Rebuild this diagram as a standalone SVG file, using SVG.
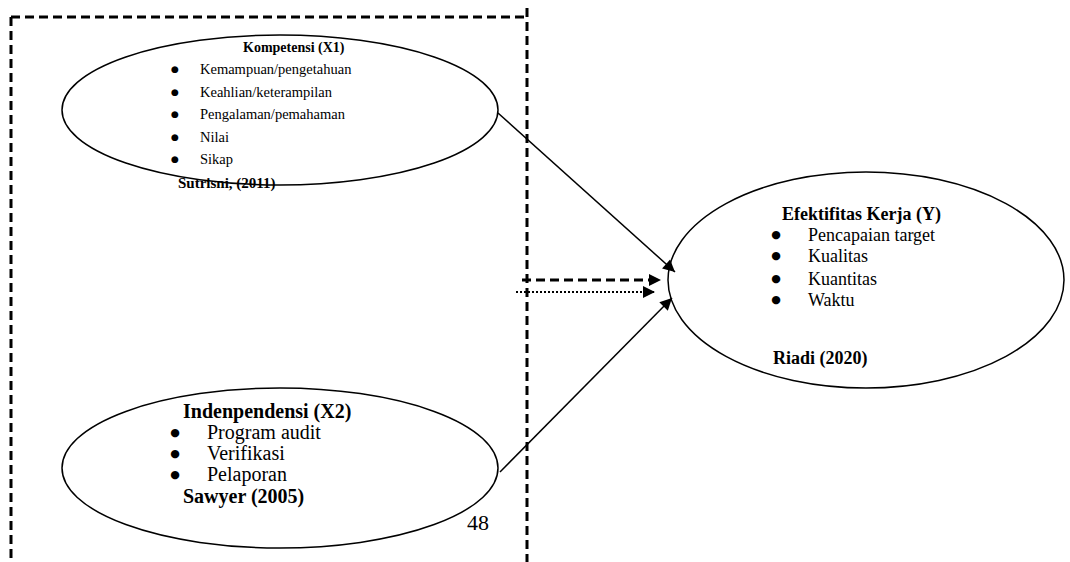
<svg xmlns="http://www.w3.org/2000/svg" width="1070" height="562" viewBox="0 0 1070 562">
<defs>
<style>
.bg{fill:#fff}
.frame{stroke:#000;stroke-width:3;stroke-dasharray:9,5;fill:none}
.node{fill:none;stroke:#000;stroke-width:1.5}
.t{font-family:"Liberation Serif","Times New Roman",serif;fill:#000}
.b{font-weight:bold}
.s1{font-size:14.5px}
.s2{font-size:18px}
.s3{font-size:20px}
.bu{font-family:"DejaVu Sans",sans-serif;fill:#000;text-anchor:middle}
.bu1{font-size:9px}
.bu2{font-size:11px}
.conn{stroke:#000;stroke-width:1.5;fill:none}
</style>
<marker id="ah2" viewBox="0 0 10 10" refX="10" refY="5" markerWidth="16" markerHeight="12" orient="auto" markerUnits="userSpaceOnUse">
<path d="M0,0 L10,5 L0,10 z" fill="#000"/>
</marker>
</defs>
<rect class="bg" width="1070" height="562"/>
<g id="frame">
<path class="frame" d="M11,17 H527"/>
<path class="frame" d="M11,17 V562"/>
<path class="frame" d="M527,8 V562"/>
</g>
<g id="x1">
<ellipse class="node" cx="280" cy="110" rx="218" ry="75"/>
<text class="t b" font-size="14" x="243" y="52">Kompetensi (X1)</text>
<g class="bu bu1">
<text x="175" y="72">●</text>
<text x="175" y="95">●</text>
<text x="175" y="117">●</text>
<text x="175" y="140">●</text>
<text x="175" y="162">●</text>
</g>
<g class="t s1">
<text x="200" y="74">Kemampuan/pengetahuan</text>
<text x="200" y="97">Keahlian/keterampilan</text>
<text x="200" y="119">Pengalaman/pemahaman</text>
<text x="200" y="142">Nilai</text>
<text x="200" y="164">Sikap</text>
</g>
<text class="t b" font-size="15" x="178" y="188">Sutrisni, (2011)</text>
</g>
<g id="x2">
<ellipse class="node" cx="280" cy="468" rx="218" ry="80"/>
<text class="t b s3" x="183" y="418">Indenpendensi (X2)</text>
<g class="bu bu2">
<text x="175" y="436">●</text>
<text x="175" y="457">●</text>
<text x="175" y="478">●</text>
</g>
<g class="t s3">
<text x="207" y="439">Program audit</text>
<text x="207" y="460">Verifikasi</text>
<text x="207" y="481">Pelaporan</text>
</g>
<text class="t b s3" x="183" y="503">Sawyer (2005)</text>
</g>
<g id="y">
<ellipse class="node" cx="866" cy="280" rx="198" ry="108"/>
<text class="t b s2" x="782" y="220">Efektifitas Kerja (Y)</text>
<g class="bu bu2">
<text x="776" y="238">●</text>
<text x="776" y="259">●</text>
<text x="776" y="282">●</text>
<text x="776" y="303">●</text>
</g>
<g class="t s2">
<text x="808" y="241">Pencapaian target</text>
<text x="808" y="262">Kualitas</text>
<text x="808" y="285">Kuantitas</text>
<text x="808" y="306">Waktu</text>
</g>
<text class="t b s2" x="773" y="364">Riadi (2020)</text>
</g>
<g id="connectors">
<line class="conn" x1="498" y1="113" x2="675" y2="272" marker-end="url(#ah2)"/>
<line class="conn" x1="500" y1="472" x2="672" y2="298" marker-end="url(#ah2)"/>
<line x1="522" y1="280" x2="661" y2="280" stroke="#000" stroke-width="3" stroke-dasharray="9,5" marker-end="url(#ah2)"/>
<line x1="516" y1="292" x2="655" y2="292" stroke="#000" stroke-width="2" stroke-dasharray="2,2" marker-end="url(#ah2)"/>
</g>
<g id="page">
<text class="t" x="467" y="530" font-size="22">48</text>
</g>
</svg>
